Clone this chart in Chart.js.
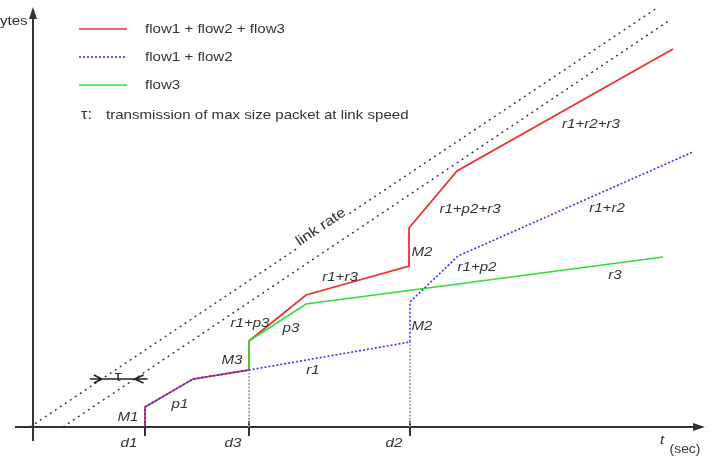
<!DOCTYPE html>
<html>
<head>
<meta charset="utf-8">
<script src="https://cdn.jsdelivr.net/npm/chart.js@4.4.0/dist/chart.umd.min.js"></script>
<style>
  body { margin: 0; background: #fff; }
  #wrap { width: 711px; height: 464px; }
</style>
</head>
<body>
<div id="wrap"><canvas id="c"></canvas></div>
<script>
// x = time, y = bytes, both measured from the axes origin
const totalX = [112, 112, 160, 216, 216, 273, 376, 376, 424, 640];
const totalY = [0, 20, 48, 57, 86, 132, 161, 199, 256, 378];
const flow12X = [112, 112, 160, 216, 377, 377, 425, 660];
const flow12Y = [0, 20, 48, 57, 85, 125, 171, 275];
const flow3X = [216, 216, 273, 630];
const flow3Y = [57, 86, 123, 170];
const linkUpperX = [-3, 624];
const linkUpperY = [0, 419];
const linkLowerX = [30, 637];
const linkLowerY = [0, 407];
const tickX = [112, 216, 377];
const tickLabels = ['d1', 'd3', 'd2'];
const dropHeights = [57, 85];   // dotted drops at d3 and d2
const tauLevel = 48;

// text labels along the curves
const curveLabels = [
  { t: 'M1', x: 95, y: 10 },
  { t: 'p1', x: 147, y: 23 },
  { t: 'M3', x: 199, y: 67 },
  { t: 'r1+p3', x: 217, y: 104 },
  { t: 'p3', x: 258, y: 99 },
  { t: 'r1', x: 280, y: 57 },
  { t: 'r1+r3', x: 307, y: 150 },
  { t: 'M2', x: 389, y: 175 },
  { t: 'M2', x: 389, y: 101 },
  { t: 'r1+p2+r3', x: 437, y: 218 },
  { t: 'r1+p2', x: 444, y: 160 },
  { t: 'r3', x: 582, y: 152 },
  { t: 'r1+r2', x: 574, y: 219 },
  { t: 'r1+r2+r3', x: 558, y: 303 }
];

const pts = (xs, ys) => xs.map((x, i) => ({ x, y: ys[i] }));
const TXT = '#333';

function text(ctx, s, x, y, opt) {
  opt = opt || {};
  ctx.save();
  ctx.translate(x, y);
  if (opt.rot) ctx.rotate(opt.rot);
  ctx.scale(1.16, 1);
  ctx.font = (opt.italic ? 'italic ' : '') + (opt.size || 13) + 'px "Liberation Sans", Arial, sans-serif';
  ctx.textAlign = opt.align || 'center';
  ctx.textBaseline = 'middle';
  if (opt.knockout) {
    const w = ctx.measureText(s).width;
    ctx.fillStyle = '#fff';
    ctx.fillRect(-w / 2 - 2, -6, w + 4, 12);
  }
  ctx.fillStyle = TXT;
  ctx.fillText(s, 0, 0);
  ctx.restore();
}

const diagram = {
  id: 'diagram',
  beforeDatasetsDraw(chart) {
    const { ctx } = chart;
    const xs = chart.scales.x, ys = chart.scales.y;
    const X = v => xs.getPixelForValue(v), Y = v => ys.getPixelForValue(v);
    ctx.save();
    ctx.strokeStyle = '#333';
    ctx.fillStyle = '#333';
    ctx.lineWidth = 2;
    // x axis
    ctx.beginPath();
    ctx.moveTo(X(-18), Y(0));
    ctx.lineTo(X(664), Y(0));
    ctx.stroke();
    ctx.beginPath();
    ctx.moveTo(X(672), Y(0));
    ctx.lineTo(X(660), Y(0) - 4);
    ctx.lineTo(X(660), Y(0) + 4);
    ctx.closePath();
    ctx.fill();
    // y axis
    ctx.beginPath();
    ctx.moveTo(X(0), Y(-14));
    ctx.lineTo(X(0), Y(410));
    ctx.stroke();
    ctx.beginPath();
    ctx.moveTo(X(0), Y(420));
    ctx.lineTo(X(0) - 4, Y(408));
    ctx.lineTo(X(0) + 4, Y(408));
    ctx.closePath();
    ctx.fill();
    // ticks
    tickX.forEach(v => {
      ctx.beginPath();
      ctx.moveTo(X(v), Y(0) - 6);
      ctx.lineTo(X(v), Y(0) + 9);
      ctx.stroke();
    });
    ctx.restore();
  },
  afterDraw(chart) {
    const { ctx } = chart;
    const xs = chart.scales.x, ys = chart.scales.y;
    const X = v => xs.getPixelForValue(v), Y = v => ys.getPixelForValue(v);

    // tau marker between the two link-rate lines
    const atLevel = (lx, ly) => lx[0] + (tauLevel - ly[0]) * (lx[1] - lx[0]) / (ly[1] - ly[0]);
    const a = X(atLevel(linkUpperX, linkUpperY)), b = X(atLevel(linkLowerX, linkLowerY));
    const ty = Y(tauLevel);
    ctx.save();
    ctx.strokeStyle = '#222';
    ctx.lineWidth = 1.6;
    ctx.beginPath();
    ctx.moveTo(a - 12, ty); ctx.lineTo(b + 13, ty);
    ctx.moveTo(a - 8, ty - 4); ctx.lineTo(a, ty); ctx.lineTo(a - 8, ty + 4);
    ctx.moveTo(b + 9, ty - 4); ctx.lineTo(b, ty); ctx.lineTo(b + 9, ty + 4);
    ctx.stroke();
    ctx.restore();
    text(ctx, '\u03c4', (a + b) / 2, ty - 2, { size: 15 });

    // curve labels
    curveLabels.forEach(l => text(ctx, l.t, X(l.x), Y(l.y), { italic: true }));
    tickX.forEach((v, i) => text(ctx, tickLabels[i], X(v) - 16, Y(-16), { italic: true }));

    // link rate label sitting on the upper line
    const ang = Math.atan2(Y(linkUpperY[1]) - Y(linkUpperY[0]), X(linkUpperX[1]) - X(linkUpperX[0]));
    text(ctx, 'link rate', X(288), Y(200), { rot: ang, knockout: true, size: 14 });

    // axis titles
    text(ctx, 'ytes', 0, 21, { align: 'left' });
    text(ctx, 't', X(629), Y(-13), { italic: true });
    text(ctx, '(sec)', X(652), Y(-23), { size: 12 });

    // legend
    const rows = [
      { label: 'flow1 + flow2 + flow3', color: '#f03030', dash: [] },
      { label: 'flow1 + flow2', color: '#3333ee', dash: [2, 2] },
      { label: 'flow3', color: '#33dd33', dash: [] }
    ];
    rows.forEach((r, i) => {
      const y = 29 + i * 28;
      ctx.save();
      ctx.strokeStyle = r.color;
      ctx.lineWidth = 1.6;
      ctx.setLineDash(r.dash);
      ctx.beginPath();
      ctx.moveTo(79, y); ctx.lineTo(127, y);
      ctx.stroke();
      ctx.restore();
      text(ctx, r.label, 145, y, { align: 'left' });
    });
    text(ctx, '\u03c4:', 81, 115, { align: 'left', size: 14 });
    text(ctx, 'transmission of max size packet at link speed', 106, 115, { align: 'left' });
  }
};

new Chart(document.getElementById('c'), {
  type: 'scatter',
  data: {
    datasets: [
      { data: pts(flow12X, flow12Y), borderColor: '#3333ee', borderDash: [2, 2], borderWidth: 1.6, order: 0 },
      { data: pts(flow3X, flow3Y), borderColor: '#33dd33', borderWidth: 1.6, order: 1 },
      { data: pts(totalX, totalY), borderColor: '#f03030', borderWidth: 1.8, order: 2 },
      { data: pts(linkUpperX, linkUpperY), borderColor: '#333', borderDash: [2, 4], borderWidth: 1.4, order: 3 },
      { data: pts(linkLowerX, linkLowerY), borderColor: '#333', borderDash: [2, 4], borderWidth: 1.4, order: 3 },
      { data: [{ x: tickX[1], y: 0 }, { x: tickX[1], y: dropHeights[0] }], borderColor: '#999', borderDash: [2, 1.5], borderWidth: 1.6, order: 4 },
      { data: [{ x: tickX[2], y: 0 }, { x: tickX[2], y: dropHeights[1] }], borderColor: '#999', borderDash: [2, 1.5], borderWidth: 1.6, order: 4 }
    ]
  },
  options: {
    responsive: true,
    maintainAspectRatio: false,
    animation: false,
    showLine: true,
    layout: { padding: 0 },
    elements: { point: { radius: 0, hoverRadius: 0 }, line: { tension: 0, fill: false } },
    scales: {
      x: { type: 'linear', min: -33, max: 678, display: false },
      y: { type: 'linear', min: -37, max: 427, display: false }
    },
    plugins: { legend: { display: false }, tooltip: { enabled: false } }
  },
  plugins: [diagram]
});
</script>
</body>
</html>
